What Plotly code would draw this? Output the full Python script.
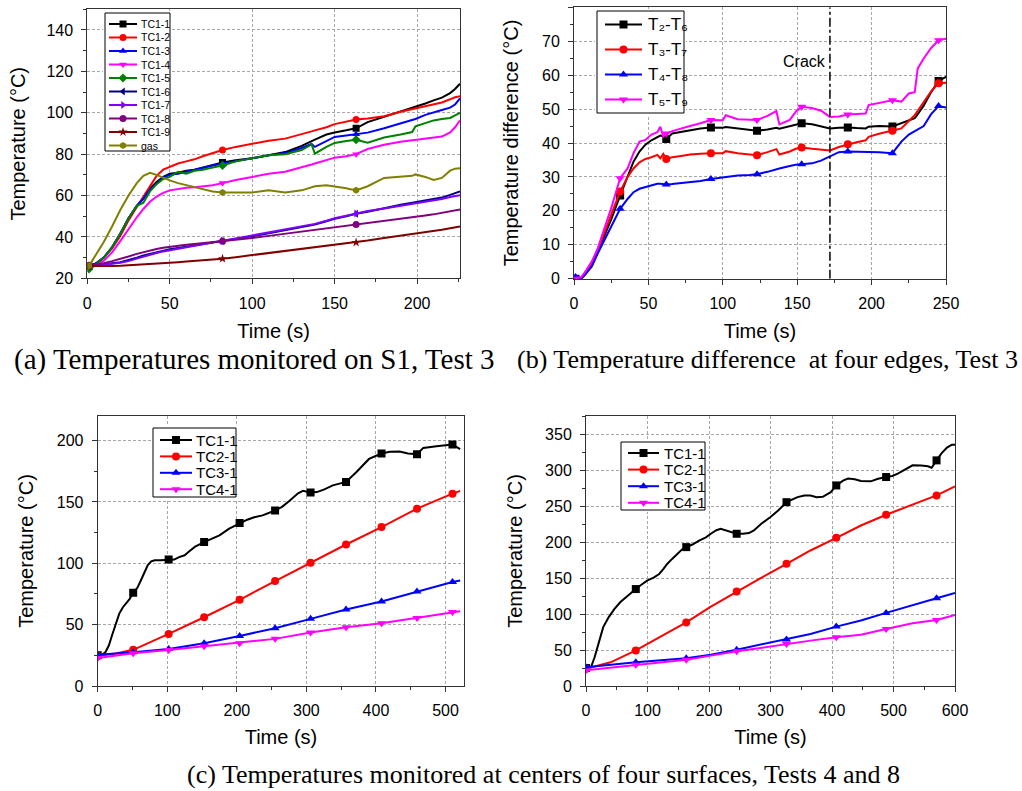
import plotly.graph_objects as go

W, H = 1022, 791

# ---------------- Panel (a): Temperatures monitored on S1, Test 3 ----------------
T_A = [1, 5, 10, 15, 20, 25, 30, 34, 38, 42, 46, 50, 55, 60, 65, 70, 76, 82, 90, 100,
       110, 120, 130, 136, 138, 145, 150, 157, 163, 170, 180, 190, 197, 199, 205, 210,
       215, 220, 223, 226]
MARK_A = [1, 82, 163]
TC1_1 = [26, 27, 30, 35, 41.5, 49, 55, 58.5, 63.5, 66.5, 69, 70.5, 71, 72, 72.5, 73.5, 74.5, 76, 77, 78,
         79.5, 81, 84, 86.5, 87, 89.5, 90.5, 91.5, 92.5, 95.5, 98, 100.5, 102.5, 103, 104.5, 106,
         107.3, 109.5, 111.5, 114]
TC1_2 = [26, 27, 30, 34.5, 40.5, 48, 54.5, 59.5, 65, 69.5, 72.5, 74, 75.5, 76.5, 77.5, 79, 80.5, 82, 83.5, 85,
         86.5, 87.5, 89.5, 91, 91.5, 93, 94.5, 95.8, 96.7, 97.2, 98.3, 100.5, 101.8, 102, 103, 104,
         105, 106.5, 107.5, 108]
TC1_3 = [26, 27, 30, 35, 41.5, 49, 55, 58.5, 63, 66, 68.5, 70, 70.5, 71.5, 72.5, 73.5, 74.5, 75.5, 76.5, 78,
         79.5, 80.5, 83, 85, 83.5, 86.5, 88.3, 89, 89.6, 90.4, 92.5, 95, 96.5, 97, 99, 100.3,
         101.3, 102.5, 104, 107]
TC1_4 = [25, 26, 28.5, 32.5, 38, 44, 49.5, 53.5, 57, 59.5, 61.3, 62.5, 63.3, 63.8, 64, 64.3, 65, 66, 67.5, 69,
         70.5, 71.5, 73.5, 75, 75.5, 77, 78.3, 79, 80, 82.5, 84.5, 86, 86.7, 86.8, 87.3, 88,
         88.5, 90.5, 93, 96.3]
TC1_5 = [24.5, 26.5, 30, 35, 41.5, 49, 55, 56.5, 62, 65.5, 68, 69, 71.5, 70.5, 72, 72.5, 73.5, 74.5, 76.5, 78,
         79.5, 80, 82, 84.7, 80.2, 83.5, 85.4, 86.3, 87, 85.5, 88, 89.5, 90.7, 93.5, 95, 96.3,
         97, 97.5, 98.7, 99.9]
TC1_6 = [26, 26.3, 26.8, 27.3, 27.8, 28.8, 30, 31, 31.8, 32.6, 33.4, 34, 34.6, 35.2, 35.8, 36.5, 37.2, 38, 39, 40.3,
         41.8, 43.2, 44.8, 45.7, 46, 47.6, 48.8, 50, 51.2, 52.2, 54, 55.5, 56.5, 56.8, 57.6, 58.3,
         59, 60.3, 61, 62]
TC1_7 = [26, 26.2, 26.6, 27, 27.5, 28.3, 29.5, 30.5, 31.4, 32.2, 33, 33.6, 34.3, 35, 35.7, 36.4, 37.2, 38.3, 39.3, 40.7,
         42.2, 43.5, 45, 46, 46.3, 47.8, 49, 50.2, 51.3, 52.5, 53.7, 55, 55.8, 56, 56.8, 57.5,
         58.3, 59.3, 59.8, 60.2]
TC1_8 = [26, 26.5, 27.3, 28.3, 29.3, 30.5, 31.8, 32.7, 33.5, 34.2, 34.8, 35.3, 35.8, 36.2, 36.6, 37, 37.4, 37.9, 38.6, 39.5,
         40.5, 41.5, 42.6, 43.2, 43.4, 44.2, 44.8, 45.4, 46, 46.8, 47.8, 48.8, 49.4, 49.6, 50.3, 50.9,
         51.6, 52.3, 52.7, 53.2]
TC1_9 = [26, 25.9, 25.9, 26, 26.1, 26.3, 26.5, 26.7, 26.9, 27.1, 27.3, 27.5, 27.8, 28.1, 28.4, 28.7, 29, 29.5, 30.2, 31.2,
         32.2, 33.2, 34.2, 34.8, 35, 35.7, 36.2, 36.8, 37.3, 38.3, 39.5, 40.6, 41.3, 41.5, 42.2, 42.8,
         43.5, 44.2, 44.6, 45]
GAS = [26, 31, 37.5, 45, 53, 60, 66, 69.5, 71, 70, 68.5, 67.3, 66, 65, 64, 63, 62, 61.5, 61.5, 61.5,
       62.5, 61.5, 62.5, 64, 64.5, 65, 64.5, 63.5, 62.5, 64.5, 68.5, 69, 69.5, 70.2, 69, 67.5,
       68.5, 72, 73, 73.2]
NAMES_A = ["TC1-1", "TC1-2", "TC1-3", "TC1-4", "TC1-5", "TC1-6", "TC1-7", "TC1-8", "TC1-9", "gas"]
COLORS_A = ["#000000", "#FF0000", "#0000FF", "#FF00FF", "#008000", "#000080", "#8000FF", "#800080", "#800000", "#808000"]
SYMBOLS_A = ["square", "circle", "triangle-up", "triangle-down", "diamond", "triangle-left",
             "triangle-right", "circle", "star", "hexagon"]
VALUES_A = [TC1_1, TC1_2, TC1_3, TC1_4, TC1_5, TC1_6, TC1_7, TC1_8, TC1_9, GAS]

# ---------------- Panel (b): Temperature difference at four edges, Test 3 ----------------
T_B = [1, 5, 8, 12, 16, 20, 25, 31, 36, 40, 44, 48, 52, 56, 58, 60, 62, 66, 72, 78, 85, 92, 100, 102,
       110, 118, 123, 130, 136, 138, 145, 149, 153, 160, 166, 172, 178, 184, 190, 196, 198, 205,
       214, 220, 225, 229, 231, 235, 240, 245, 251]
MARK_B = [1, 31, 62, 92, 123, 153, 184, 214, 245]
D26 = [0, 0, 1.5, 4, 8, 12, 17.5, 24.5, 30, 34.5, 37.5, 39.5, 40.8, 41.8, 42.2, 42, 41.2, 42.8, 43.3, 43.8, 44.3,
       44.6, 44.5, 44.7, 44.3, 44, 43.6, 44, 44.5, 44.2, 45, 45.3, 45.8, 45.5, 45, 44.3, 44.5, 44.6,
       44.4, 44.3, 44.8, 45, 44.9, 45.8, 46.5, 47.3, 48.5, 51, 55, 58.3, 59.7]
D37 = [0, 0.3, 2, 4.6, 8.5, 13, 19, 25.7, 30, 32.5, 34.3, 35.3, 35.8, 36.5, 35.5, 36.8, 35.3, 35.8, 36.2, 36.6,
       36.8, 37, 37, 37.6, 37, 36.7, 36.4, 37.3, 38.2, 36.6, 37.5, 38.3, 38.7, 38.3, 38, 37.8, 38.8,
       39.6, 40.2, 40.8, 41.8, 42.7, 43.6, 44.3, 46.5, 48.2, 49.5, 52.2, 55.2, 57.6, 57.8]
D48 = [0.5, 0.2, 1.5, 3.6, 7.5, 11, 15.5, 20.6, 23.5, 25.5, 26.5, 27, 27.6, 28, 28, 27.8, 27.8, 27.9, 28.2, 28.6,
       28.8, 29.4, 29.9, 30, 30.4, 30.6, 30.8, 31.5, 32.3, 32.5, 33.2, 33.6, 33.7, 34, 34.8, 36, 37.3,
       37.5, 37.5, 37.3, 37.4, 37.3, 37, 40.4, 42.5, 43.5, 44, 45, 48.5, 50.9, 50.4]
D59 = [0, 0.5, 2.3, 5.1, 9, 14, 20.8, 29.6, 32.5, 37, 40.4, 40.9, 42.5, 43.2, 44.8, 41.9, 42.8, 43.5, 44.3, 45,
       45.8, 46.8, 46.7, 48.2, 47, 46.8, 46.8, 48, 49.4, 45.5, 46.8, 49.2, 50.7, 50.3, 49.5, 47.7, 47.8,
       48.4, 48.6, 48.7, 51.2, 51.8, 52.6, 52.2, 54.6, 55, 62, 64.9, 68, 70.3, 70.8]
NAMES_B = ["T\u2082-T\u2086", "T\u2083-T\u2087", "T\u2084-T\u2088", "T\u2085-T\u2089"]
COLORS_B = ["#000000", "#FF0000", "#0000FF", "#FF00FF"]
SYMBOLS_B = ["square", "circle", "triangle-up", "triangle-down"]
VALUES_B = [D26, D37, D48, D59]
CRACK_TIME = 172

# ---------------- Panel (c) left: Test 4 ----------------
MARK_CL = [0, 51, 102, 153, 204, 255, 306, 357, 408, 459, 510]
T_CL1 = [0, 5, 11, 16, 21, 26, 31, 36, 41, 46, 51, 57, 62, 67, 72, 77, 82, 90, 102, 110, 117, 125, 130,
         140, 153, 165, 175, 189, 204, 215, 225, 237, 255, 265, 275, 288, 295, 306, 315, 325, 338,
         357, 372, 390, 408, 420, 434, 446, 459, 468, 487, 510, 521]
CL_TC1 = [25, 25, 27.5, 33, 42, 50, 59, 64, 67.5, 71, 76, 80, 86, 93, 98.5, 101.5, 102.5, 102.5, 103, 103,
          105, 106.5, 109, 113.5, 117.3, 120.5, 122.7, 128.2, 132.8, 135.5, 137.5, 139, 143, 146,
          150.5, 157, 159, 157.6, 158, 160, 163.5, 166.3, 174.4, 185, 189.4, 190.8, 191, 189.5,
          188.8, 194, 195.4, 196.7, 193]
T_CL2 = [0, 26, 51, 76, 102, 153, 204, 255, 306, 357, 408, 459, 510, 521]
CL_TC2 = [24.5, 26.5, 29.5, 35.5, 42.4, 56, 70.2, 85.5, 100.4, 115.3, 129.5, 144.5, 156.7, 159]
T_CL34 = [0, 51, 102, 153, 204, 230, 255, 306, 357, 408, 459, 510, 521]
CL_TC3 = [25.5, 27.5, 30.2, 34.8, 40.8, 44, 47.1, 54.7, 62.3, 68.8, 77, 84.7, 86]
CL_TC4 = [22.9, 26.7, 29.4, 32.4, 34.8, 36.5, 38.4, 43.5, 47.9, 51.2, 55.5, 60.2, 61]

# ---------------- Panel (c) right: Test 8 ----------------
MARK_CR = [0, 81, 163, 245, 326, 407, 488, 570]
T_CR1 = [0, 8, 14, 21, 28, 37, 46, 56, 68, 81, 90, 100, 110, 119, 126, 132, 140, 148, 156, 163, 173,
         184, 195, 203, 212, 219, 227, 235, 245, 255, 265, 273, 285, 300, 312, 326, 335, 344, 355,
         365, 375, 385, 398, 407, 418, 426, 437, 447, 463, 475, 488, 498, 507, 520, 531, 545, 556,
         562, 566, 570, 578, 587, 595, 600]
CR_TC1 = [25, 26, 40, 63, 82, 96, 107, 117, 126, 135, 141, 147, 151, 156, 163, 170, 177, 184, 190, 193.4,
          197, 202.6, 207, 212, 217, 219, 217, 214.3, 212, 212, 213, 216.6, 226, 235.3, 244, 256, 260,
          263, 265.4, 265.4, 263, 263.5, 270, 279.3, 286, 289, 288, 285.5, 285, 288.5, 291, 292.5,
          295.7, 302, 307.3, 307, 306, 304, 310, 314.2, 324, 332, 336, 336]
T_CR2 = [0, 40, 81, 121, 163, 203, 245, 284, 326, 365, 407, 447, 488, 531, 570, 600]
CR_TC2 = [24, 33, 49.5, 68.8, 88.5, 110.6, 131.5, 150.2, 170.1, 188.7, 206.4, 223.5, 238.5, 252.8, 265.4, 277.9]
T_CR3 = [0, 81, 163, 203, 245, 284, 326, 365, 407, 447, 488, 531, 570, 600]
CR_TC3 = [26, 33, 38.6, 43.6, 50.6, 57.6, 64.6, 72.5, 82.7, 91.1, 101.8, 112, 122.3, 129.7]
T_CR4 = [0, 81, 163, 203, 245, 284, 326, 365, 407, 447, 488, 531, 555, 563, 570, 600]
CR_TC4 = [22, 29.7, 36.7, 42.3, 48.4, 53, 58.6, 63.2, 67.9, 71.5, 79.5, 87.4, 90.2, 91, 92, 99]
NAMES_C = ["TC1-1", "TC2-1", "TC3-1", "TC4-1"]
COLORS_C = ["#000000", "#FF0000", "#0000FF", "#FF00FF"]
SYMBOLS_C = ["square", "circle", "triangle-up", "triangle-down"]

CAPTIONS = ["(a) Temperatures monitored on S1, Test 3",
            "(b) Temperature difference  at four edges, Test 3",
            "(c) Temperatures monitored at centers of four surfaces, Tests 4 and 8"]

TRANSPARENT = "rgba(0,0,0,0)"
FONT = "Liberation Sans, Arial, sans-serif"
SUBFONT = "Liberation Sans, DejaVu Sans, sans-serif"
SERIF = "Liberation Serif, Times New Roman, serif"

fig = go.Figure()


def add_series(t, y, name, color, symbol, xa, ya, marks, size):
    mcol = [color if tt in marks else TRANSPARENT for tt in t]
    fig.add_trace(go.Scatter(
        x=t, y=y, name=name, mode="lines+markers", xaxis=xa, yaxis=ya,
        line=dict(color=color, width=2),
        marker=dict(symbol=symbol, size=size, color=mcol, line=dict(width=0)),
        showlegend=False, hoverinfo="skip"))


for vals, nm, col, sym in zip(VALUES_A, NAMES_A, COLORS_A, SYMBOLS_A):
    add_series(T_A, vals, nm, col, sym, "x", "y", MARK_A, 7)

for vals, nm, col, sym in zip(VALUES_B, NAMES_B, COLORS_B, SYMBOLS_B):
    add_series(T_B, vals, nm, col, sym, "x2", "y2", MARK_B, 8)

for (t, vals), nm, col, sym in zip([(T_CL1, CL_TC1), (T_CL2, CL_TC2), (T_CL34, CL_TC3), (T_CL34, CL_TC4)],
                                   NAMES_C, COLORS_C, SYMBOLS_C):
    add_series(t, vals, nm, col, sym, "x3", "y3", MARK_CL, 8)

for (t, vals), nm, col, sym in zip([(T_CR1, CR_TC1), (T_CR2, CR_TC2), (T_CR3, CR_TC3), (T_CR4, CR_TC4)],
                                   NAMES_C, COLORS_C, SYMBOLS_C):
    add_series(t, vals, nm, col, sym, "x4", "y4", MARK_CR, 8)

# ---- legend boxes, drawn on hidden helper axes measured in page pixels ----
legend_annots = []
helper_axes = {}


def add_legend(k, box, row0, step, names, colors, symbols, fsize, seg, msize, family=FONT):
    left, right, top, bottom = box
    xa, ya = "x%d" % k, "y%d" % k
    fig.add_trace(go.Scatter(x=[left, right, right, left, left], y=[top, top, bottom, bottom, top],
                             mode="lines", fill="toself", fillcolor="white",
                             line=dict(color="black", width=1), xaxis=xa, yaxis=ya,
                             showlegend=False, hoverinfo="skip"))
    for i, (nm, col, sym) in enumerate(zip(names, colors, symbols)):
        yr = row0 + step * i
        x0, x1 = left + seg[0], left + seg[1]
        fig.add_trace(go.Scatter(x=[x0, (x0 + x1) / 2, x1], y=[yr, yr, yr], mode="lines+markers",
                                 line=dict(color=col, width=2),
                                 marker=dict(symbol=sym, size=msize, color=[TRANSPARENT, col, TRANSPARENT],
                                             line=dict(width=0)),
                                 xaxis=xa, yaxis=ya, showlegend=False, hoverinfo="skip"))
        legend_annots.append(dict(text=nm, x=left + seg[2], y=yr, xref=xa, yref=ya, xanchor="left",
                                  yanchor="middle", showarrow=False,
                                  font=dict(family=family, size=fsize, color="black")))
    helper_axes["xaxis%d" % k] = dict(domain=[(left - 2) / W, (right + 2) / W], range=[left - 2, right + 2],
                                      visible=False, anchor=ya, fixedrange=True)
    helper_axes["yaxis%d" % k] = dict(domain=[1 - (bottom + 2) / H, 1 - (top - 2) / H],
                                      range=[bottom + 2, top - 2], visible=False, anchor=xa, fixedrange=True)


add_legend(5, (105, 170, 13, 151), 24, 13.5, NAMES_A, COLORS_A, SYMBOLS_A, 10.5, (4, 32, 34), 7)
add_legend(6, (597, 684, 11, 113), 24.5, 25, NAMES_B, COLORS_B, SYMBOLS_B, 17, (8, 45, 49), 8, SUBFONT)
add_legend(7, (153, 236, 428, 497), 440, 16.4, NAMES_C, COLORS_C, SYMBOLS_C, 15, (7, 39, 41), 8)
add_legend(8, (621, 705, 442, 510), 453, 16.6, NAMES_C, COLORS_C, SYMBOLS_C, 15, (7, 38, 41), 8)


def axis(rng, dtick, mdtick, title, standoff, domain, anchor):
    return dict(range=rng, dtick=dtick, tick0=0, domain=domain, anchor=anchor,
                showline=True, mirror=True, linecolor="#333333", linewidth=1,
                ticks="outside", ticklen=5, tickwidth=1, tickcolor="#333333",
                ticklabelstandoff=5,
                minor=dict(dtick=mdtick, tick0=0, ticks="outside", ticklen=3, tickcolor="#333333",
                           showgrid=False),
                showgrid=True, gridcolor="#a8a8a8", griddash="3px,2px", gridwidth=1,
                zeroline=False, tickfont=dict(family=FONT, size=16, color="black"),
                title=dict(text=title, font=dict(family=FONT, size=20, color="black"), standoff=standoff),
                automargin=False, fixedrange=True)


XA = [87.3 / W, 460 / W]
YA = [1 - 278.3 / H, 1 - 9.3 / H]
XB = [574 / W, 946 / W]
YB = [1 - 278.7 / H, 1 - 7.3 / H]
XCL = [97.7 / W, 464.3 / W]
XCR = [586 / W, 955 / W]
YC = [1 - 686 / H, 1 - 416 / H]

annots = [
    dict(text=CAPTIONS[0], x=254 / W, y=1 - 359 / H, xref="paper", yref="paper", showarrow=False,
         xanchor="center", yanchor="middle", font=dict(family=SERIF, size=29, color="black")),
    dict(text=CAPTIONS[1], x=767 / W, y=1 - 359 / H, xref="paper", yref="paper", showarrow=False,
         xanchor="center", yanchor="middle", font=dict(family=SERIF, size=26, color="black")),
    dict(text=CAPTIONS[2], x=543 / W, y=0, xref="paper", yref="paper", showarrow=False,
         xanchor="center", yanchor="bottom", font=dict(family=SERIF, size=26, color="black")),
    dict(text="Crack", x=CRACK_TIME - 1.5, y=64, xref="x2", yref="y2", showarrow=False,
         xanchor="right", yanchor="middle", font=dict(family=FONT, size=16, color="black")),
] + legend_annots

fig.update_layout(
    width=W, height=H, margin=dict(l=0, r=0, t=0, b=0),
    paper_bgcolor="white", plot_bgcolor="white", showlegend=False,
    font=dict(family=FONT, color="black"),
    xaxis=axis([0, 226], 50, 25, "Time (s)", 13, XA, "y"),
    yaxis=axis([20, 150], 20, 10, "Temperature (°C)", 15, YA, "x"),
    xaxis2=axis([0, 250], 50, 25, "Time (s)", 13, XB, "y2"),
    yaxis2=axis([0, 80], 10, 5, "Temperature difference (°C)", 18, YB, "x2"),
    xaxis3=axis([0, 527], 100, 50, "Time (s)", 11, XCL, "y3"),
    yaxis3=axis([0, 220], 50, 25, "Temperature (°C)", 17, YC, "x3"),
    xaxis4=axis([0, 600], 100, 50, "Time (s)", 11, XCR, "y4"),
    yaxis4=axis([0, 376], 50, 25, "Temperature (°C)", 17, YC, "x4"),
    annotations=annots,
    shapes=[dict(type="line", xref="x2", yref="y2", x0=CRACK_TIME, x1=CRACK_TIME, y0=0, y1=80,
                 line=dict(color="black", width=1.5, dash="dashdot"))],
)
fig.update_layout(**helper_axes)

fig.write_html("out.html", config={"displayModeBar": False},
               post_script="document.body.style.margin='0px';")
